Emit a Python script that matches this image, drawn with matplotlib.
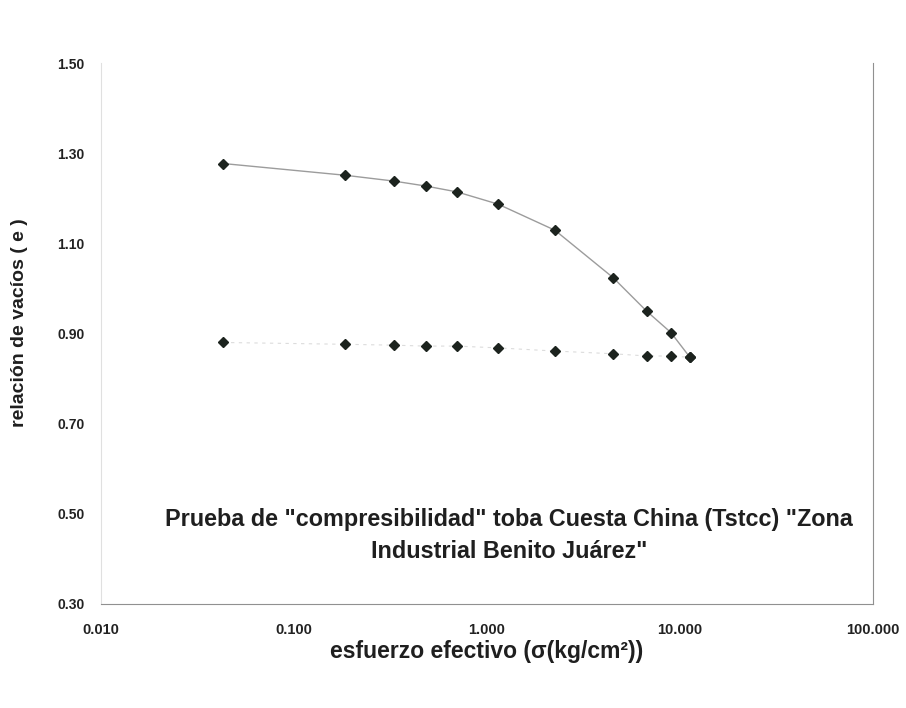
import matplotlib.pyplot as plt
from matplotlib.ticker import FixedLocator, FixedFormatter

# load steps (kg/cm2) and void ratio
esfuerzo = [0.043, 0.184, 0.33, 0.483, 0.70, 1.14, 2.25, 4.50, 6.74, 8.98, 11.27]
e_carga = [1.277, 1.251, 1.238, 1.227, 1.214, 1.187, 1.129, 1.024, 0.949, 0.902, 0.847]
e_descarga = [0.880, 0.876, 0.874, 0.872, 0.872, 0.868, 0.861, 0.855, 0.850, 0.850, 0.847]

xticks = [0.01, 0.1, 1, 10, 100]
xtick_labels = ['0.010', '0.100', '1.000', '10.000', '100.000']
yticks = [0.30, 0.50, 0.70, 0.90, 1.10, 1.30, 1.50]
ytick_labels = ['0.30', '0.50', '0.70', '0.90', '1.10', '1.30', '1.50']

plt.rcParams['font.family'] = ['Liberation Sans', 'DejaVu Sans']

fig = plt.figure(figsize=(9.06, 7.08), dpi=100)
ax = fig.add_axes([0.1115, 0.147, 0.852, 0.764])

ax.plot(esfuerzo, e_descarga, color='#dcdcdc', lw=0.8, ls=(0, (3, 4)), zorder=1)
ax.plot(esfuerzo, e_carga, color='#9c9c9c', lw=1.0, zorder=2)
ax.plot(esfuerzo, e_carga, ls='none', marker='D', ms=5.5, color='#1c231e', zorder=3)
ax.plot(esfuerzo, e_descarga, ls='none', marker='D', ms=5.5, color='#1c231e', zorder=3)

ax.set_xscale('log')
ax.set_xlim(0.01, 100)
ax.set_ylim(0.30, 1.50)
ax.xaxis.set_major_locator(FixedLocator(xticks))
ax.xaxis.set_major_formatter(FixedFormatter(xtick_labels))
ax.xaxis.set_minor_locator(FixedLocator([]))
ax.set_yticks(yticks)
ax.set_yticklabels(ytick_labels)
ax.tick_params(axis='x', length=0, labelsize=10.5, colors='#222222', pad=14)
ax.tick_params(axis='y', length=0, labelsize=10, colors='#222222', pad=12)
for lab in ax.get_xticklabels() + ax.get_yticklabels():
    lab.set_fontweight('bold')

ax.spines['top'].set_visible(False)
ax.spines['left'].set_color('#e0e0e0')
ax.spines['left'].set_linewidth(0.8)
ax.spines['bottom'].set_color('#909090')
ax.spines['bottom'].set_linewidth(0.8)
ax.spines['right'].set_color('#909090')
ax.spines['right'].set_linewidth(0.8)

fig.text(0.562, 0.244, 'Prueba de "compresibilidad" toba Cuesta China (Tstcc) "Zona\nIndustrial Benito Juárez"',
         ha='center', va='center', fontsize=16.8, fontweight='bold',
         color='#1f1f1f', linespacing=1.5)

fig.text(0.5375, 0.0805, 'esfuerzo efectivo (σ(kg/cm²))', ha='center', va='center',
         fontsize=16.5, fontweight='bold', color='#1f1f1f')
fig.text(0.021, 0.544, 'relación de vacíos ( e )', rotation=90, ha='center', va='center',
         fontsize=14, fontweight='bold', color='#1f1f1f')

fig.savefig('out.png', dpi=100, facecolor='white')
